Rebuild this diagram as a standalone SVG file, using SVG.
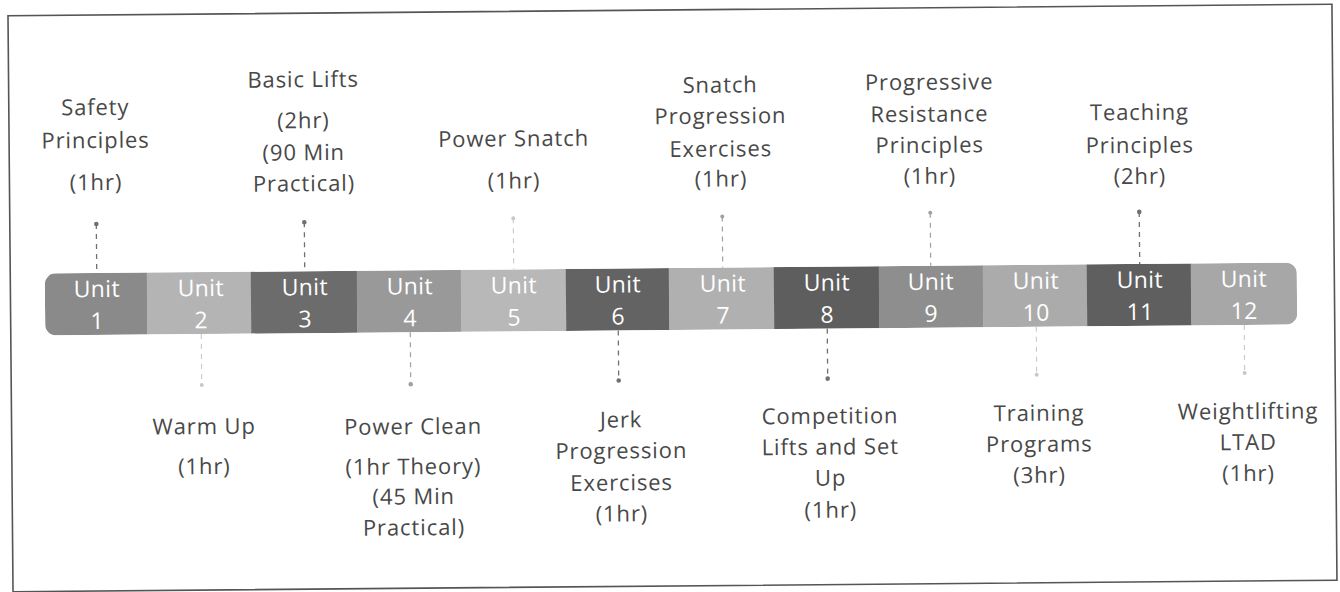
<svg xmlns="http://www.w3.org/2000/svg" width="1340" height="592" viewBox="0 0 1340 592">
<style>
.lbl{font-family:"Open Sans","Liberation Sans",sans-serif;font-size:22px;letter-spacing:0.9px;fill:#484848;text-anchor:middle}
.u{font-family:"Open Sans","Liberation Sans",sans-serif;font-size:23px;letter-spacing:0.4px;fill:#ffffff;text-anchor:middle}
.c1{stroke:#707070;stroke-width:1.3;stroke-dasharray:5 5;fill:none}
.c2{stroke:#a0a0a0;stroke-width:1.2;stroke-dasharray:5 5;fill:none}
.c3{stroke:#c8c8c8;stroke-width:1.1;stroke-dasharray:5 5;fill:none}
.d1{fill:#707070}.d2{fill:#a0a0a0}.d3{fill:#c8c8c8}
</style>
<defs>
<clipPath id="bar"><rect x="45" y="268" width="1252" height="62" rx="11"/></clipPath>
</defs>
<rect x="0" y="0" width="1340" height="592" fill="#ffffff"/>
<g transform="rotate(-0.5 670 300)">
<rect id="frame" x="10.5" y="10" width="1324" height="576" fill="none" stroke="#555555" stroke-width="1.6"/>
<g id="timeline" clip-path="url(#bar)">
<g id="unit1"><rect x="45" y="268" width="102.4" height="62" fill="#8a8a8a"/><text class="u" x="97" y="292">Unit</text><text class="u" x="97" y="324">1</text></g>
<g id="unit2"><rect x="147" y="268" width="104.4" height="62" fill="#b4b4b4"/><text class="u" x="201" y="292">Unit</text><text class="u" x="201" y="324">2</text></g>
<g id="unit3"><rect x="251" y="268" width="106.4" height="62" fill="#6c6c6c"/><text class="u" x="305" y="292">Unit</text><text class="u" x="305" y="324">3</text></g>
<g id="unit4"><rect x="357" y="268" width="104.4" height="62" fill="#999999"/><text class="u" x="410" y="292">Unit</text><text class="u" x="410" y="324">4</text></g>
<g id="unit5"><rect x="461" y="268" width="105.4" height="62" fill="#b8b8b8"/><text class="u" x="514" y="292">Unit</text><text class="u" x="514" y="324">5</text></g>
<g id="unit6"><rect x="566" y="268" width="103.4" height="62" fill="#636363"/><text class="u" x="618" y="292">Unit</text><text class="u" x="618" y="324">6</text></g>
<g id="unit7"><rect x="669" y="268" width="105.4" height="62" fill="#b0b0b0"/><text class="u" x="723" y="292">Unit</text><text class="u" x="723" y="324">7</text></g>
<g id="unit8"><rect x="774" y="268" width="105.4" height="62" fill="#5e5e5e"/><text class="u" x="827" y="292">Unit</text><text class="u" x="827" y="324">8</text></g>
<g id="unit9"><rect x="879" y="268" width="104.4" height="62" fill="#8e8e8e"/><text class="u" x="931" y="292">Unit</text><text class="u" x="931" y="324">9</text></g>
<g id="unit10"><rect x="983" y="268" width="104.4" height="62" fill="#ababab"/><text class="u" x="1036" y="292">Unit</text><text class="u" x="1036" y="324">10</text></g>
<g id="unit11"><rect x="1087" y="268" width="104.4" height="62" fill="#5f5f5f"/><text class="u" x="1140" y="292">Unit</text><text class="u" x="1140" y="324">11</text></g>
<g id="unit12"><rect x="1191" y="268" width="106" height="62" fill="#a7a7a7"/><text class="u" x="1244" y="292">Unit</text><text class="u" x="1244" y="324">12</text></g>
</g>
<g id="connectors">
<line class="c1" x1="97" y1="219" x2="97" y2="268"/><circle class="d1" cx="97" cy="219" r="2.3"/>
<line class="c1" x1="305" y1="219" x2="305" y2="268"/><circle class="d1" cx="305" cy="219" r="2.3"/>
<line class="c3" x1="514" y1="217" x2="514" y2="268"/><circle class="d3" cx="514" cy="217" r="2"/>
<line class="c2" x1="723" y1="217" x2="723" y2="268"/><circle class="d2" cx="723" cy="217" r="2"/>
<line class="c2" x1="931" y1="215" x2="931" y2="268"/><circle class="d2" cx="931" cy="215" r="2"/>
<line class="c1" x1="1140" y1="216" x2="1140" y2="268"/><circle class="d1" cx="1140" cy="216" r="2.3"/>
<line class="c3" x1="201" y1="330" x2="201" y2="381"/><circle class="d3" cx="201" cy="381" r="2"/>
<line class="c2" x1="410" y1="330" x2="410" y2="382"/><circle class="d2" cx="410" cy="382" r="2.3"/>
<line class="c1" x1="618" y1="330" x2="618" y2="380"/><circle class="d1" cx="618" cy="380" r="2.3"/>
<line class="c1" x1="827" y1="330" x2="827" y2="380"/><circle class="d1" cx="827" cy="380" r="2.3"/>
<line class="c3" x1="1036" y1="330" x2="1036" y2="378"/><circle class="d3" cx="1036" cy="378" r="2"/>
<line class="c3" x1="1244" y1="330" x2="1244" y2="378"/><circle class="d3" cx="1244" cy="378" r="2"/>
</g>
<g id="label1"><text class="lbl" x="97" y="110">Safety</text><text class="lbl" x="97" y="143" fill="#666">Principles</text><text class="lbl" x="97" y="185">(1hr)</text></g>
<g id="label3"><text class="lbl" x="305" y="84">Basic Lifts</text><text class="lbl" x="305" y="125">(2hr)</text><text class="lbl" x="305" y="157">(90 Min</text><text class="lbl" x="305" y="188">Practical)</text></g>
<g id="label5"><text class="lbl" x="515" y="145">Power Snatch</text><text class="lbl" x="515" y="187">(1hr)</text></g>
<g id="label7"><text class="lbl" x="722" y="93">Snatch</text><text class="lbl" x="722" y="124">Progression</text><text class="lbl" x="722" y="157">Exercises</text><text class="lbl" x="722" y="187">(1hr)</text></g>
<g id="label9"><text class="lbl" x="931" y="92">Progressive</text><text class="lbl" x="931" y="124">Resistance</text><text class="lbl" x="931" y="155">Principles</text><text class="lbl" x="931" y="186">(1hr)</text></g>
<g id="label11"><text class="lbl" x="1141" y="124">Teaching</text><text class="lbl" x="1141" y="157">Principles</text><text class="lbl" x="1141" y="188">(2hr)</text></g>
<g id="label2"><text class="lbl" x="203" y="430">Warm Up</text><text class="lbl" x="203" y="470">(1hr)</text></g>
<g id="label4"><text class="lbl" x="412" y="432">Power Clean</text><text class="lbl" x="412" y="472">(1hr Theory)</text><text class="lbl" x="412" y="502">(45 Min</text><text class="lbl" x="412" y="533">Practical)</text></g>
<g id="label6"><text class="lbl" x="620" y="427">Jerk</text><text class="lbl" x="620" y="458">Progression</text><text class="lbl" x="620" y="490">Exercises</text><text class="lbl" x="620" y="521">(1hr)</text></g>
<g id="label8"><text class="lbl" x="829" y="425">Competition</text><text class="lbl" x="829" y="456">Lifts and Set</text><text class="lbl" x="829" y="487">Up</text><text class="lbl" x="829" y="519">(1hr)</text></g>
<g id="label10"><text class="lbl" x="1038" y="424">Training</text><text class="lbl" x="1038" y="455">Programs</text><text class="lbl" x="1038" y="486">(3hr)</text></g>
<g id="label12"><text class="lbl" x="1247" y="424">Weightlifting</text><text class="lbl" x="1247" y="455">LTAD</text><text class="lbl" x="1247" y="486">(1hr)</text></g>
</g>
</svg>
